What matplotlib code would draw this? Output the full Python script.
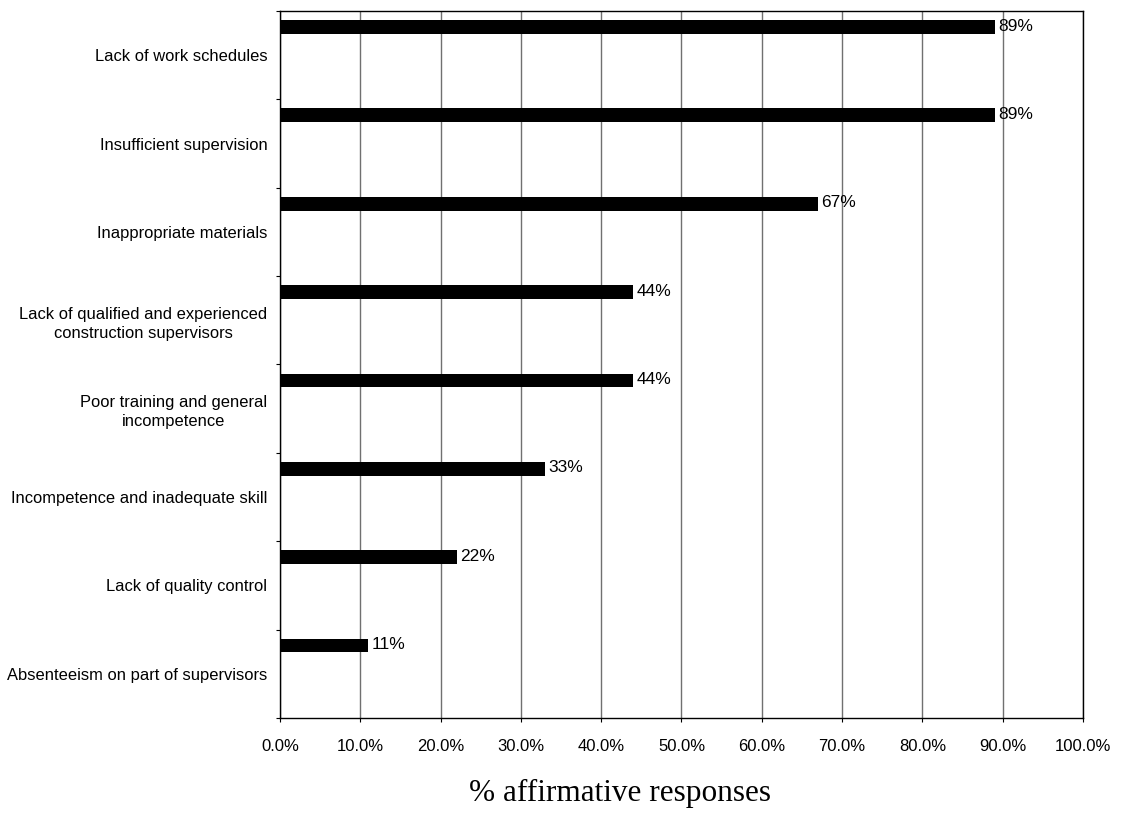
import numpy as np
import matplotlib.pyplot as plt

causes = ['Lack of work schedules',
          'Insufficient supervision',
          'Inappropriate materials',
          'Lack of qualified and experienced\nconstruction supervisors',
          'Poor training and general\nincompetence',
          'Incompetence and inadequate skill',
          'Lack of quality control',
          'Absenteeism on part of supervisors']
pct = [89, 89, 67, 44, 44, 33, 22, 11]

plt.rcParams['font.family'] = ['Liberation Sans', 'DejaVu Sans']

fig = plt.figure(figsize=(11.27, 8.34), dpi=100)
ax = fig.add_axes([0.2484, 0.1391, 0.7126, 0.8477])

y = np.arange(len(causes))
# bars sit in the upper part of each category band
ax.barh(y - 0.32, pct, height=0.155, color='black', zorder=3)
for yi, p in zip(y, pct):
    ax.text(p + 0.4, yi - 0.33, '{}%'.format(p), va='center', ha='left', fontsize=12.5)

ax.set_xlim(0, 100)
ax.set_ylim(len(causes) - 0.5, -0.5)
ax.set_xticks(np.arange(0, 101, 10))
ax.set_xticklabels(['{:.1f}%'.format(v) for v in range(0, 101, 10)], fontsize=12)
ax.set_yticks(y)
ax.set_yticklabels(causes, fontsize=11.9, multialignment='center', linespacing=1.35)
ax.set_yticks(np.arange(-0.5, len(causes)), minor=True)
ax.tick_params(axis='y', which='major', length=0, pad=9)
ax.tick_params(axis='y', which='minor', length=3, width=0.8)
ax.tick_params(axis='x', length=3, width=0.8, pad=12)

ax.grid(axis='x', color='#707070', linewidth=1, zorder=0)
for s in ax.spines.values():
    s.set_linewidth(1)

ax.set_xlabel('% affirmative responses', fontsize=22.5,
              family=['Liberation Serif', 'DejaVu Serif'])
ax.xaxis.set_label_coords(0.423, -0.086)

plt.savefig('out.png', dpi=100)
